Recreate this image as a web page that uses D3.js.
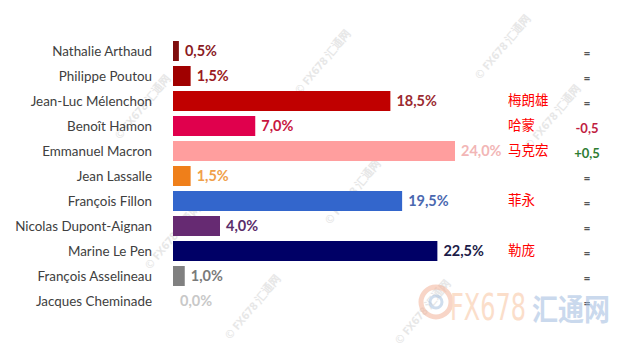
<!DOCTYPE html>
<html>
<head>
<meta charset="utf-8">
<script src="https://cdn.jsdelivr.net/npm/d3@7"></script>
<style>
  body { margin: 0; background: #fff; }
  svg { display: block; }
</style>
</head>
<body>
<div id="chart"></div>
<script>
// candidates, top to bottom
var candidates = ["Nathalie Arthaud", "Philippe Poutou", "Jean-Luc Mélenchon", "Benoît Hamon",
    "Emmanuel Macron", "Jean Lassalle", "François Fillon", "Nicolas Dupont-Aignan",
    "Marine Le Pen", "François Asselineau", "Jacques Cheminade"];
var scores = [0.5, 1.5, 18.5, 7.0, 24.0, 1.5, 19.5, 4.0, 22.5, 1.0, 0.0];
var changes = ["=", "=", "=", "-0,5", "+0,5", "=", "=", "=", "=", "=", "="];
// chinese names written next to some bars
var cnNames = ["", "", "梅朗雄", "哈蒙", "马克宏", "", "菲永", "", "勒庞", "", ""];

var barColors = ["#7f0d0d", "#a00000", "#c00000", "#e0004d", "#ff9e9e", "#ef7f1a",
    "#3366cc", "#662a72", "#000066", "#808080", "#cccccc"];
var labelColors = ["#8a1a1f", "#9b1a22", "#9b2a30", "#c8163f", "#f2b6b6", "#f0a04a",
    "#4a68b0", "#5a2d6a", "#1c1c48", "#7a7a7a", "#c8c8c8"];

var width = 630, height = 351;
var svg = d3.select("#chart").append("svg")
    .attr("width", width)
    .attr("height", height);

var x = d3.scaleLinear().domain([0, 24]).range([173, 455]);
var y = d3.scaleBand().domain(candidates).range([38.5, 313.5]).paddingInner(0.2).paddingOuter(0.1);

// faint watermarks
var wm = svg.append("g").attr("class", "watermarks");
[[120, 140], [300, 95], [480, 80], [150, 270], [330, 225], [530, 150], [230, 340], [400, 345]].forEach(function(p) {
    wm.append("text")
        .attr("transform", "translate(" + p[0] + "," + p[1] + ") rotate(-50)")
        .attr("font-family", "Open Sans, sans-serif")
        .attr("font-size", 11)
        .attr("font-weight", "bold")
        .attr("fill", "#d8d8d8")
        .attr("opacity", 0.6)
        .text("© FX678 汇通网");
});

var rows = svg.append("g").selectAll("g")
    .data(candidates)
    .join("g");

rows.append("text")
    .attr("x", 152)
    .attr("y", function(d) { return y(d) + y.bandwidth() / 2; })
    .attr("dy", "0.36em")
    .attr("text-anchor", "end")
    .attr("font-family", "Lato, sans-serif")
    .attr("font-size", 13.4)
    .attr("fill", "#404040")
    .text(function(d) { return d; });

rows.append("rect")
    .attr("x", x(0))
    .attr("y", function(d) { return y(d); })
    .attr("width", function(d, i) { return x(scores[i]) - x(0); })
    .attr("height", y.bandwidth())
    .attr("fill", function(d, i) { return barColors[i]; });

rows.append("text")
    .attr("x", function(d, i) { return x(scores[i]) + (scores[i] > 0 ? 6 : 7); })
    .attr("y", function(d) { return y(d) + y.bandwidth() / 2; })
    .attr("dy", "0.36em")
    .attr("font-family", "Lato, sans-serif")
    .attr("font-weight", "bold")
    .attr("font-size", 14.5)
    .attr("fill", function(d, i) { return labelColors[i]; })
    .text(function(d, i) { return d3.format(".1f")(scores[i]).replace(".", ",") + "%"; });

rows.append("text")
    .attr("x", 508)
    .attr("y", function(d) { return y(d) + y.bandwidth() / 2 - 1; })
    .attr("dy", "0.36em")
    .attr("font-family", "Noto Sans CJK SC, sans-serif")
    .attr("font-size", 13.5)
    .attr("fill", "#ff0000")
    .text(function(d, i) { return cnNames[i]; });

rows.append("text")
    .attr("x", 587)
    .attr("y", function(d) { return y(d) + y.bandwidth() / 2 + 2; })
    .attr("dy", "0.36em")
    .attr("text-anchor", "middle")
    .attr("font-family", "Lato, sans-serif")
    .attr("font-weight", "bold")
    .attr("font-size", function(d, i) { return changes[i] === "=" ? 12 : 13; })
    .attr("fill", function(d, i) {
        if (changes[i][0] === "-") return "#c0203f";
        if (changes[i][0] === "+") return "#2e7d32";
        return "#555";
    })
    .text(function(d, i) { return changes[i]; });

// big logo watermark at bottom right
var logo = svg.append("g").attr("opacity", 0.55);
logo.append("circle").attr("cx", 436).attr("cy", 302).attr("r", 15)
    .attr("fill", "none").attr("stroke", "#f3b49a").attr("stroke-width", 5);
logo.append("circle").attr("cx", 436).attr("cy", 302).attr("r", 6)
    .attr("fill", "none").attr("stroke", "#a9c2e0").attr("stroke-width", 3);
logo.append("text")
    .attr("x", 450).attr("y", 320)
    .attr("font-family", "DejaVu Sans, sans-serif")
    .attr("font-size", 38)
    .attr("textLength", 76)
    .attr("lengthAdjust", "spacingAndGlyphs")
    .attr("fill", "#f8c4a0")
    .text("FX678");
logo.append("text")
    .attr("x", 532).attr("y", 320)
    .attr("font-family", "Noto Sans CJK SC, sans-serif")
    .attr("font-weight", "bold")
    .attr("font-size", 30)
    .attr("textLength", 78)
    .attr("lengthAdjust", "spacingAndGlyphs")
    .attr("fill", "#9fbbe0")
    .text("汇通网");
</script>
</body>
</html>
